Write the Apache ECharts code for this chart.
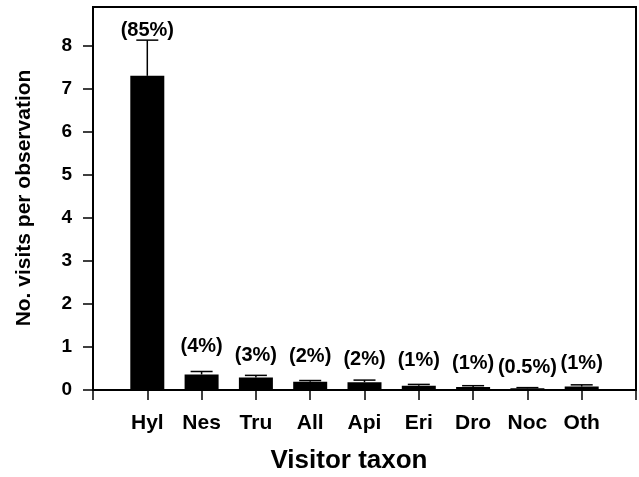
<!DOCTYPE html>
<html>
<head>
<meta charset="utf-8">
<script src="https://cdn.jsdelivr.net/npm/echarts@6/dist/echarts.min.js"></script>
<style>html,body{margin:0;padding:0;background:#fff;}#c{width:639px;height:477px;}</style>
</head>
<body>
<div id="c"></div>
<script>
const categories = ['Hyl','Nes','Tru','All','Api','Eri','Dro','Noc','Oth'];
const means = [7.30, 0.36, 0.29, 0.19, 0.18, 0.10, 0.07, 0.04, 0.08];
const errors = [0.83, 0.07, 0.05, 0.03, 0.05, 0.03, 0.03, 0.015, 0.04];
const percentLabels = ['(85%)','(4%)','(3%)','(2%)','(2%)','(1%)','(1%)','(0.5%)','(1%)'];
const labelHeights = [8.36, 1.02, 0.81, 0.77, 0.72, 0.68, 0.62, 0.52, 0.62];
const yTicks = [0,1,2,3,4,5,6,7,8];
const yMax = 8.9;

const FONT = 'Liberation Sans, Arial, sans-serif';
const xCats = [''].concat(categories, ['']);
const pad = a => [null].concat(a, [null]);

const chart = echarts.init(document.getElementById('c'));
chart.setOption({
  animation: false,
  grid: {left: 93, right: 1, top: 7, bottom: 87, show: true, borderColor: '#000', borderWidth: 2, backgroundColor: 'transparent'},
  xAxis: {
    type: 'category', data: xCats, boundaryGap: false,
    axisLine: {lineStyle: {color: '#000', width: 2}},
    axisTick: {show: true, inside: false, length: 10, alignWithLabel: true, lineStyle: {color: '#000', width: 1.5}},
    axisLabel: {interval: 0, margin: 23, color: '#000', fontFamily: FONT, fontWeight: 'bold', fontSize: 21},
    splitLine: {show: false}
  },
  yAxis: {
    type: 'value', min: 0, max: yMax,
    axisLine: {show: true, lineStyle: {color: '#000', width: 2}},
    axisTick: {show: true, length: 10, customValues: yTicks, lineStyle: {color: '#000', width: 1.5}},
    axisLabel: {customValues: yTicks, margin: 21, color: '#000', fontFamily: FONT, fontWeight: 'bold', fontSize: 19},
    splitLine: {show: false}
  },
  graphic: [
    {type: 'text', x: 24, y: 198, rotation: Math.PI / 2,
     style: {text: 'No. visits per observation', align: 'center', verticalAlign: 'middle', fill: '#000', font: 'bold 21px ' + FONT}},
    {type: 'text', x: 349, y: 461,
     style: {text: 'Visitor taxon', align: 'center', verticalAlign: 'middle', fill: '#000', font: 'bold 26px ' + FONT}}
  ],
  series: [
    {type: 'bar', data: pad(means), barWidth: 34, itemStyle: {color: '#000'}, z: 2},
    {type: 'custom', z: 3,
     data: pad(means.map((m, i) => [i + 1, m, m + errors[i]])).map((d, i) => d === null ? [i, null, null] : d),
     renderItem: function (params, api) {
       const lo = api.value(1), hi = api.value(2);
       if (lo == null || isNaN(lo)) return null;
       const p0 = api.coord([api.value(0), lo]);
       const p1 = api.coord([api.value(0), hi]);
       const hw = 11;
       return {type: 'group', children: [
         {type: 'line', shape: {x1: p0[0], y1: p0[1], x2: p1[0], y2: p1[1]}, style: {stroke: '#000', lineWidth: 1.5}},
         {type: 'line', shape: {x1: p1[0] - hw, y1: p1[1], x2: p1[0] + hw, y2: p1[1]}, style: {stroke: '#000', lineWidth: 1.5}}
       ]};
     }
    },
    {type: 'custom', z: 4,
     data: pad(labelHeights.map((h, i) => [i + 1, h, i])).map((d, i) => d === null ? [i, null, -1] : d),
     renderItem: function (params, api) {
       const h = api.value(1);
       if (h == null || isNaN(h)) return null;
       const p = api.coord([api.value(0), h]);
       return {type: 'text', x: p[0], y: p[1],
         style: {text: percentLabels[api.value(2)], align: 'center', verticalAlign: 'middle', fill: '#000', font: 'bold 20px ' + FONT}};
     }
    }
  ]
});
</script>
</body>
</html>
